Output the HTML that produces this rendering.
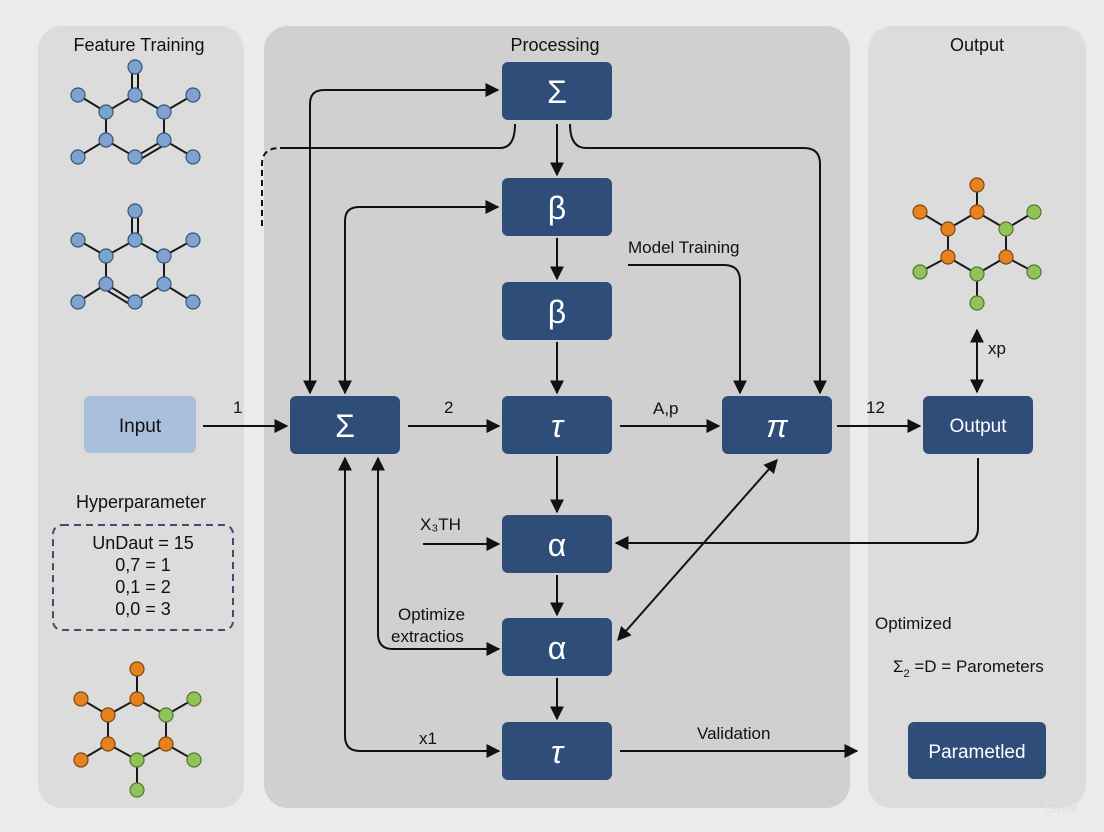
<!DOCTYPE html>
<html><head><meta charset="utf-8"><style>
html,body{margin:0;padding:0;background:#ebebeb;}
svg{display:block;}
text{font-family:"Liberation Sans","DejaVu Sans",sans-serif;}
</style></head><body>
<svg width="1104" height="832" viewBox="0 0 1104 832" xmlns="http://www.w3.org/2000/svg">
<defs>
<marker id="a" viewBox="0 0 10 10" refX="9" refY="5" markerWidth="7" markerHeight="7" orient="auto-start-reverse" markerUnits="strokeWidth"><path d="M0,0 L10,5 L0,10 z" fill="#111"/></marker>
</defs>
<rect width="1104" height="832" fill="#ebebeb"/>
<rect x="38" y="26" width="206" height="782" rx="24" fill="#dcdcdc"/>
<rect x="264" y="26" width="586" height="782" rx="24" fill="#d0d0d0"/>
<rect x="868" y="26" width="218" height="782" rx="24" fill="#dcdcdc"/>

<g font-size="18" fill="#111" text-anchor="middle">
<text x="139" y="51">Feature Training</text>
<text x="555" y="51">Processing</text>
<text x="977" y="51">Output</text>
</g>

<g stroke="#1a1a1a" stroke-width="2" fill="none">
<path d="M135,95 L106,112 L106,140 L135,157 L164,140 L164,112 Z M106,112 L78,95 M164,112 L193,95 M106,140 L78,157 M164,140 L193,157"/>
<path d="M132,67 V95 M138,67 V95 M139,160 L166,144"/>
<path d="M135,240 L106,256 L106,284 L135,302 L164,284 L164,256 Z M106,256 L78,240 M164,256 L193,240 M106,284 L78,302 M164,284 L193,302"/>
<path d="M132,211 V240 M138,211 V240 M103,288 L131,305"/>
<path d="M137,699 L108,715 L108,744 L137,760 L166,744 L166,715 Z M137,669 V699 M108,715 L81,699 M166,715 L194,699 M108,744 L81,760 M166,744 L194,760 M137,760 V790"/>
<path d="M977,212 L948,229 L948,257 L977,274 L1006,257 L1006,229 Z M977,185 V212 M948,229 L920,212 M1006,229 L1034,212 M948,257 L920,272 M1006,257 L1034,272 M977,274 V303"/>
</g>
<g stroke="#35557a" stroke-width="1.2" fill="#7ea3cf">
<circle cx="135" cy="67" r="7"/><circle cx="135" cy="95" r="7"/><circle cx="106" cy="112" r="7"/><circle cx="164" cy="112" r="7"/><circle cx="106" cy="140" r="7"/><circle cx="164" cy="140" r="7"/><circle cx="135" cy="157" r="7"/><circle cx="78" cy="95" r="7"/><circle cx="193" cy="95" r="7"/><circle cx="78" cy="157" r="7"/><circle cx="193" cy="157" r="7"/>
<circle cx="135" cy="211" r="7"/><circle cx="135" cy="240" r="7"/><circle cx="106" cy="256" r="7"/><circle cx="164" cy="256" r="7"/><circle cx="106" cy="284" r="7"/><circle cx="164" cy="284" r="7"/><circle cx="135" cy="302" r="7"/><circle cx="78" cy="240" r="7"/><circle cx="193" cy="240" r="7"/><circle cx="78" cy="302" r="7"/><circle cx="193" cy="302" r="7"/>
</g>
<g stroke="#7a4a10" stroke-width="1.2" fill="#e8821e">
<circle cx="137" cy="669" r="7"/><circle cx="137" cy="699" r="7"/><circle cx="108" cy="715" r="7"/><circle cx="108" cy="744" r="7"/><circle cx="81" cy="699" r="7"/><circle cx="81" cy="760" r="7"/><circle cx="166" cy="744" r="7"/>
<circle cx="977" cy="185" r="7"/><circle cx="977" cy="212" r="7"/><circle cx="948" cy="229" r="7"/><circle cx="948" cy="257" r="7"/><circle cx="1006" cy="257" r="7"/><circle cx="920" cy="212" r="7"/>
</g>
<g stroke="#4f7a2a" stroke-width="1.2" fill="#92c25a">
<circle cx="166" cy="715" r="7"/><circle cx="137" cy="760" r="7"/><circle cx="194" cy="699" r="7"/><circle cx="194" cy="760" r="7"/><circle cx="137" cy="790" r="7"/>
<circle cx="1006" cy="229" r="7"/><circle cx="977" cy="274" r="7"/><circle cx="1034" cy="212" r="7"/><circle cx="920" cy="272" r="7"/><circle cx="1034" cy="272" r="7"/><circle cx="977" cy="303" r="7"/>
</g>

<text x="141" y="508" font-size="18" fill="#111" text-anchor="middle">Hyperparameter</text>
<rect x="53" y="525" width="180" height="105" rx="9" fill="none" stroke="#3c4f6e" stroke-width="2" stroke-dasharray="7,5"/>
<g font-size="18" fill="#111" text-anchor="middle">
<text x="143" y="549">UnDaut = 15</text>
<text x="143" y="571">0,7 = 1</text>
<text x="143" y="593">0,1 = 2</text>
<text x="143" y="615">0,0 = 3</text>
</g>

<rect x="84" y="396" width="112" height="57" rx="6" fill="#a9bfdc"/>
<text x="140" y="432" font-size="19" fill="#111" text-anchor="middle">Input</text>
<g fill="#2e4d78">
<rect x="502" y="62" width="110" height="58" rx="6"/>
<rect x="502" y="178" width="110" height="58" rx="6"/>
<rect x="502" y="282" width="110" height="58" rx="6"/>
<rect x="502" y="396" width="110" height="58" rx="6"/>
<rect x="290" y="396" width="110" height="58" rx="6"/>
<rect x="722" y="396" width="110" height="58" rx="6"/>
<rect x="923" y="396" width="110" height="58" rx="6"/>
<rect x="502" y="515" width="110" height="58" rx="6"/>
<rect x="502" y="618" width="110" height="58" rx="6"/>
<rect x="502" y="722" width="110" height="58" rx="6"/>
<rect x="908" y="722" width="138" height="57" rx="6"/>
</g>
<g fill="#fff" text-anchor="middle" font-size="32" font-family="Liberation Serif,serif">
<text x="557" y="103">Σ</text>
<text x="557" y="219">β</text>
<text x="557" y="323">β</text>
<text x="557" y="437" font-style="italic">τ</text>
<text x="345" y="437">Σ</text>
<text x="777" y="437" font-style="italic">π</text>
<text x="557" y="556">α</text>
<text x="557" y="659">α</text>
<text x="557" y="763" font-style="italic">τ</text>
</g>
<text x="978" y="432" font-size="19" fill="#fff" text-anchor="middle">Output</text>
<text x="977" y="758" font-size="19" fill="#fff" text-anchor="middle">Parametled</text>

<g stroke="#111" stroke-width="2" fill="none">
<path d="M310,393 V104 Q310,90 324,90 H498" marker-end="url(#a)" marker-start="url(#a)"/>
<path d="M345,393 V221 Q345,207 359,207 H498" marker-end="url(#a)" marker-start="url(#a)"/>
<path d="M262,226 V164 Q262,148 280,148" stroke-dasharray="6,4"/>
<path d="M280,148 H500 Q515,148 515,124"/>
<path d="M557,124 V175" marker-end="url(#a)"/>
<path d="M570,124 Q570,148 586,148 H804 Q820,148 820,164 V393" marker-end="url(#a)"/>
<path d="M628,265 H724 Q740,265 740,281 V393" marker-end="url(#a)"/>
<path d="M557,238 V279" marker-end="url(#a)"/>
<path d="M557,342 V393" marker-end="url(#a)"/>
<path d="M203,426 H287" marker-end="url(#a)"/>
<path d="M408,426 H499" marker-end="url(#a)"/>
<path d="M620,426 H719" marker-end="url(#a)"/>
<path d="M837,426 H920" marker-end="url(#a)"/>
<path d="M977,330 V392" marker-end="url(#a)" marker-start="url(#a)"/>
<path d="M557,456 V512" marker-end="url(#a)"/>
<path d="M978,458 V528 Q978,543 963,543 H616" marker-end="url(#a)"/>
<path d="M423,544 H499" marker-end="url(#a)"/>
<path d="M557,575 V615" marker-end="url(#a)"/>
<path d="M777,460 L618,640" marker-end="url(#a)" marker-start="url(#a)"/>
<path d="M378,458 V634 Q378,649 393,649 H499" marker-start="url(#a)" marker-end="url(#a)"/>
<path d="M345,458 V736 Q345,751 360,751 H499" marker-start="url(#a)" marker-end="url(#a)"/>
<path d="M557,678 V719" marker-end="url(#a)"/>
<path d="M620,751 H857" marker-end="url(#a)"/>
</g>

<g font-size="17" fill="#111">
<text x="233" y="413">1</text>
<text x="444" y="413">2</text>
<text x="653" y="414">A,p</text>
<text x="866" y="413">12</text>
<text x="988" y="354">xp</text>
<text x="628" y="253">Model Training</text>
<text x="420" y="530">X₃TH</text>
<text x="398" y="620">Optimize</text>
<text x="391" y="642">extractios</text>
<text x="419" y="744">x1</text>
<text x="697" y="739">Validation</text>
<text x="875" y="629">Optimized</text>
<text x="893" y="672">Σ<tspan font-size="11" dy="5">2</tspan><tspan dy="-5"> =D = Parometers</tspan></text>
</g>
<text x="1055" y="813" font-size="16" fill="#e2e2e2" text-anchor="middle">◌ Grok</text>
</svg>
</body></html>
